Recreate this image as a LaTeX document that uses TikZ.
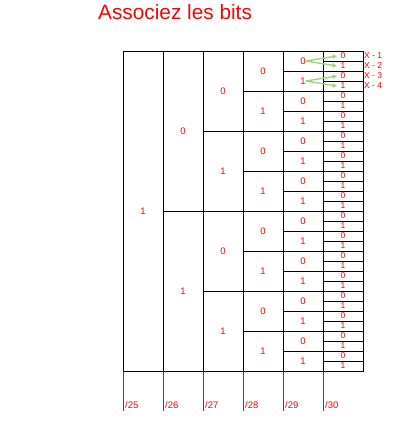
\documentclass[tikz,border=0pt]{standalone}
\usepackage{fontspec}
\setmainfont{Liberation Sans}
\usetikzlibrary{arrows.meta}
\definecolor{bitred}{RGB}{255,0,0}
\definecolor{arrowgreen}{RGB}{158,212,128}
\tikzset{
  cell/.style={draw,rectangle,line width=0.8pt,minimum width=40pt,inner sep=0pt,
    text=bitred,font=\fontsize{9.5}{10}\selectfont},
  smallcell/.style={cell,font=\fontsize{8.5}{9}\selectfont},
  hint/.style={text=bitred,inner sep=0pt,anchor=west,font=\fontsize{8.5}{9}\selectfont},
  bitarrow/.style={draw=arrowgreen,line width=1.4pt,-{Stealth[length=5pt,width=5pt]}},
}
\begin{document}
\begin{tikzpicture}[x=1pt,y=-1pt]
        \useasboundingbox (0,0) rectangle (405,423);

        %%%%%%%%%% Titre %%%%%%%%%%
        \node[text=bitred,inner sep=0pt,anchor=base west,font=\fontsize{20.8}{22}\selectfont] (titre) at (98,19.5) {Associez les bits};

        %%%%%%%%%% Colonne 1 %%%%%%%%%%
        \node[cell,minimum height=320pt] (b1-0) at (143,211) {1};

        %%%%%%%%%% Colonnes 2 a 6 %%%%%%%%%%
        \foreach \k in {2,...,6} {
          \pgfmathtruncatemacro\n{2^(\k-1)}
          \pgfmathsetmacro\h{320/\n}
          \pgfmathtruncatemacro\last{\n-1}
          \pgfmathsetmacro\cx{143+40*(\k-1)}
          \foreach \j in {0,...,\last} {
            \pgfmathtruncatemacro\b{mod(\j,2)}
            \pgfmathsetmacro\cy{51+\h*(\j+0.5)}
            \ifnum\k=6
              \node[smallcell,minimum height=\h pt] (b\k-\j) at (\cx,\cy) {\b};
            \else
              \node[cell,minimum height=\h pt] (b\k-\j) at (\cx,\cy) {\b};
            \fi
          }
        }

        %%%%%%%%%% Fleches %%%%%%%%%%
        \draw[bitarrow] ([xshift=3pt]b5-0.center) -- ([xshift=-6pt]b6-0.center);
        \draw[bitarrow] ([xshift=3pt]b5-0.center) -- ([xshift=-6pt]b6-1.center);
        \draw[bitarrow] ([xshift=3pt]b5-1.center) -- ([xshift=-6pt]b6-2.center);
        \draw[bitarrow] ([xshift=3pt]b5-1.center) -- ([xshift=-6pt]b6-3.center);

        %%%%%%%%%% X %%%%%%%%%%
        \node[hint] (x1) at (364,56) {X - 1};
        \node[hint] (x2) at (364,66) {X - 2};
        \node[hint] (x3) at (364,76) {X - 3};
        \node[hint] (x4) at (364,86) {X - 4};

        %%%%%%%%%% Masques %%%%%%%%%%
        \foreach \k/\t in {0/25,1/26,2/27,3/28,4/29,5/30} {
          \coordinate (m\t) at (123+40*\k,371);
          \draw[bitred,line width=0.8pt] (m\t) -- ++(0,40);
          \node[hint,font=\fontsize{9.5}{10}\selectfont] (l\t) at (125+40*\k,405) {/\t};
        }
\end{tikzpicture}
\end{document}
